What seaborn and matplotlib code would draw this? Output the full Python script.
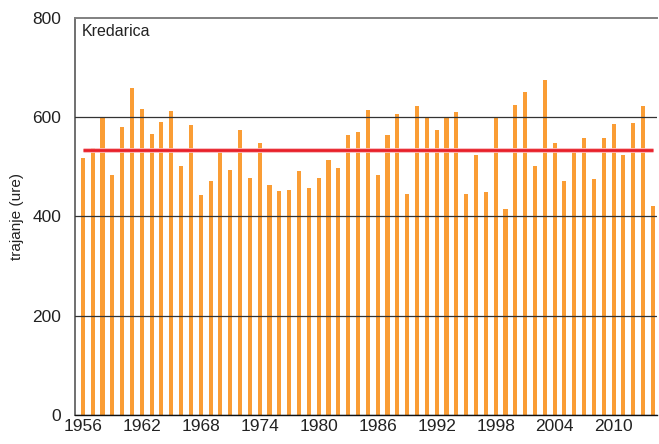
import matplotlib
matplotlib.use("Agg")
import matplotlib.pyplot as plt
import seaborn as sns

years = list(range(1956, 2015))
hours = [518, 538, 600, 484, 580, 659, 617, 566, 591, 613,
         502, 585, 444, 472, 532, 494, 574, 478, 548, 464,
         452, 454, 492, 458, 478, 514, 498, 564, 570, 615,
         484, 564, 607, 446, 623, 600, 574, 600, 611, 446,
         524, 450, 600, 415, 625, 651, 502, 675, 548, 472,
         536, 558, 476, 558, 587, 524, 589, 623, 421]
average = 533
tick_years = list(range(1956, 2015, 6))
station = "Kredarica"

sns.set_style("white")
plt.rcParams["font.family"] = ["Liberation Sans", "DejaVu Sans"]

fig = plt.figure(figsize=(6.59, 4.44), dpi=100)
ax = fig.add_axes([0.114, 0.065, 0.883, 0.895])

sns.barplot(x=years, y=hours, color="#FA9D35", width=0.42, saturation=1,
            linewidth=0, ax=ax, zorder=1)
ax.plot([0, len(years) - 1], [average, average], color="#F9B3B8", lw=3.4, solid_capstyle="butt", zorder=4)
ax.plot([0, len(years) - 1], [average, average], color="#E8202A", lw=2.0, solid_capstyle="butt", zorder=5)

ax.set_xlim(-0.78, len(years) - 0.58)
ax.set_ylim(0, 800)
ax.set_yticks([0, 200, 400, 600, 800])
ax.set_xticks([years.index(y) for y in tick_years])
ax.set_xticklabels([str(y) for y in tick_years])

ax.set_axisbelow(False)
ax.yaxis.grid(True, color="#333333", lw=0.9, zorder=3)
ax.yaxis.get_gridlines()[-1].set_visible(False)
ax.tick_params(axis="y", length=8, width=0.9, color="#333333", labelsize=12.5, pad=2)
ax.tick_params(axis="x", length=0, labelsize=12.5, pad=3)
ax.yaxis.get_major_ticks()[-1].tick1line.set_color("#808080")
for lab in ax.get_xticklabels() + ax.get_yticklabels():
    lab.set_color("#222222")

ax.spines["right"].set_visible(False)
ax.spines["top"].set_color("#808080")
ax.spines["top"].set_linewidth(1.4)
ax.spines["left"].set_color("#707070")
ax.spines["left"].set_linewidth(1.4)
ax.spines["bottom"].set_color("#111111")
ax.spines["bottom"].set_linewidth(1.0)

ax.set_ylabel("trajanje (ure)", fontsize=11, color="#222222", labelpad=6)
ax.text(0.012, 0.985, station, transform=ax.transAxes, ha="left", va="top",
        fontsize=11.5, color="#222222")

fig.savefig("out.png", dpi=100)
